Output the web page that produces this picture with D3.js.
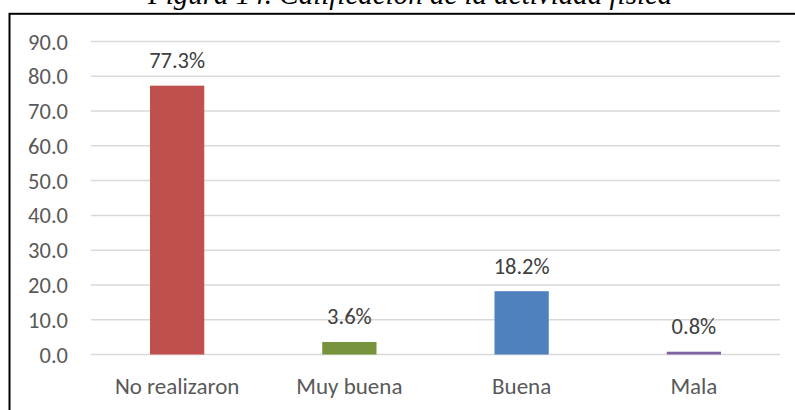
<!DOCTYPE html>
<html>
<head>
<meta charset="utf-8">
<script src="https://cdn.jsdelivr.net/npm/d3@7"></script>
<style>
  body { margin: 0; background: #fff; }
  svg { display: block; }
</style>
</head>
<body>
<div id="chart"></div>
<script>
var categories = ["No realizaron", "Muy buena", "Buena", "Mala"];
var values = [77.3, 3.6, 18.2, 0.8];
var colors = ["#C0504D", "#77933C", "#4F81BD", "#8064A2"];
var yTicks = [0, 10, 20, 30, 40, 50, 60, 70, 80, 90];

var width = 795,
    height = 410,
    font = "Carlito, Calibri, Lato, sans-serif",
    fontSize = 22.5;

var svg = d3.select("#chart").append("svg")
    .attr("width", width)
    .attr("height", height);

// caption of the figure, cut by the top edge as in the source page
svg.append("text")
    .attr("x", 148)
    .attr("y", 3.5)
    .attr("font-family", "Liberation Serif, Times New Roman, serif")
    .attr("font-style", "italic")
    .attr("font-size", 29)
    .attr("fill", "#000")
    .text("Figura 14. Calificación de la actividad física");

// chart frame
svg.append("rect")
    .attr("x", 9.5)
    .attr("y", 13.8)
    .attr("width", 900)
    .attr("height", 500)
    .attr("fill", "#fff")
    .attr("stroke", "#000")
    .attr("stroke-width", 2);

var x = d3.scaleBand()
    .domain(categories)
    .range([91, 780])
    .padding(0);

var y = d3.scaleLinear()
    .domain([0, 90])
    .range([354.5, 41.5]);

// gridlines
svg.append("g").selectAll("line")
    .data(yTicks)
    .enter().append("line")
      .attr("x1", 91)
      .attr("x2", 780)
      .attr("y1", function(d) { return y(d); })
      .attr("y2", function(d) { return y(d); })
      .attr("stroke", "#d9d9d9")
      .attr("stroke-width", 1.5);

// y tick labels
svg.append("g").selectAll("text")
    .data(yTicks)
    .enter().append("text")
      .attr("x", 68)
      .attr("y", function(d) { return y(d); })
      .attr("dy", "0.36em")
      .attr("text-anchor", "end")
      .attr("font-family", font)
      .attr("font-size", fontSize)
      .attr("fill", "#595959")
      .text(function(d) { return d.toFixed(1); });

var barW = x.bandwidth() * 0.315;

svg.append("g").selectAll("rect")
    .data(values)
    .enter().append("rect")
      .attr("x", function(d, i) { return x(categories[i]) + x.bandwidth() / 2 - barW / 2; })
      .attr("y", function(d) { return y(d); })
      .attr("width", barW)
      .attr("height", function(d) { return y(0) - y(d); })
      .attr("fill", function(d, i) { return colors[i]; });

// value labels
svg.append("g").selectAll("text")
    .data(values)
    .enter().append("text")
      .attr("x", function(d, i) { return x(categories[i]) + x.bandwidth() / 2; })
      .attr("y", function(d) { return y(d) - 17.5; })
      .attr("text-anchor", "middle")
      .attr("font-family", font)
      .attr("font-size", fontSize)
      .attr("fill", "#404040")
      .text(function(d) { return d.toFixed(1) + "%"; });

// category labels
svg.append("g").selectAll("text")
    .data(categories)
    .enter().append("text")
      .attr("x", function(d) { return x(d) + x.bandwidth() / 2; })
      .attr("y", 394)
      .attr("text-anchor", "middle")
      .attr("font-family", font)
      .attr("font-size", 23)
      .attr("fill", "#595959")
      .text(function(d) { return d; });
</script>
</body>
</html>
